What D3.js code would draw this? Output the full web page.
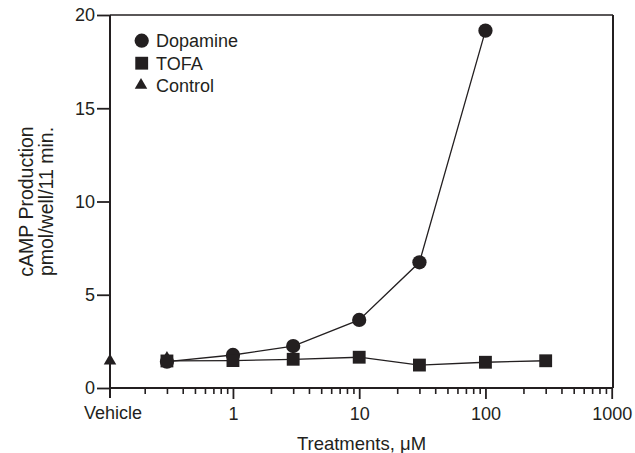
<!DOCTYPE html>
<html>
<head>
<meta charset="utf-8">
<script src="https://cdn.jsdelivr.net/npm/d3@7"></script>
<style>
  html, body { margin: 0; padding: 0; background: #fff; }
  svg { display: block; }
  text { font-family: "Liberation Sans", Arial, Helvetica, sans-serif; fill: #231f20; }
</style>
</head>
<body>
<svg id="chart" width="635" height="453"></svg>
<script>
// ---- data ----
const dopamineDose   = [0.3, 1, 3, 10, 30, 100];
const dopamineValues = [1.41, 1.77, 2.25, 3.65, 6.74, 19.16];
const tofaDose       = [0.3, 1, 3, 10, 30, 100, 300];
const tofaValues     = [1.45, 1.47, 1.54, 1.65, 1.23, 1.38, 1.46];
const controlDose    = ["Vehicle", 0.3];
const controlValues  = [1.45, 1.6];
const yTickValues    = [0, 5, 10, 15, 20];
const xMajorTicks    = [1, 10, 100, 1000];
const xMinorTicks    = [0.2,0.3,0.4,0.5,0.6,0.7,0.8,0.9, 2,3,4,5,6,7,8,9, 20,30,40,50,60,70,80,90, 200,300,400,500,600,700,800,900];
const legendNames    = ["Dopamine", "TOFA", "Control"];

// ---- layout ----
const ink = "#231f20";
const plot = { left: 110, right: 613, top: 15, bottom: 388 };
const svg = d3.select("#chart");

const x = d3.scaleLog().domain([0.1, 1000]).range([plot.left - 3.3, plot.right - 1.3]);
const y = d3.scaleLinear().domain([0, 20]).range([plot.bottom, plot.top]);
const px = d => d === "Vehicle" ? plot.left : x(d);

// ---- axes ----
const yAxis = svg.append("g").attr("transform", `translate(${plot.left},0)`)
  .call(d3.axisLeft(y).tickValues(yTickValues).tickSize(13).tickSizeOuter(0).tickPadding(2));
yAxis.select(".domain").remove();
yAxis.selectAll("line").attr("stroke", ink).attr("stroke-width", 1.8);
yAxis.selectAll("text").attr("font-size", 18).attr("fill", ink);

const xMinor = svg.append("g").attr("transform", `translate(0,${plot.bottom})`)
  .call(d3.axisBottom(x).tickValues(xMinorTicks).tickSize(6).tickFormat(""));
xMinor.select(".domain").remove();
xMinor.selectAll("line").attr("stroke", ink).attr("stroke-width", 1.6);

const xMajor = svg.append("g").attr("transform", `translate(0,${plot.bottom})`)
  .call(d3.axisBottom(x).tickValues(xMajorTicks).tickSize(11).tickPadding(8).tickFormat(d3.format("d")));
xMajor.select(".domain").remove();
xMajor.selectAll("line").attr("stroke", ink).attr("stroke-width", 1.8);
xMajor.selectAll("text").attr("font-size", 18).attr("fill", ink);

// vehicle label
svg.append("text").attr("x", plot.left + 3).attr("y", 419)
  .attr("text-anchor", "middle").attr("font-size", 18).text("Vehicle");

// frame lines
svg.append("line").attr("x1", plot.left).attr("x2", plot.left).attr("y1", plot.top).attr("y2", plot.bottom + 10)
  .attr("stroke", ink).attr("stroke-width", 2);
svg.append("line").attr("x1", plot.left).attr("x2", plot.right).attr("y1", plot.bottom).attr("y2", plot.bottom)
  .attr("stroke", ink).attr("stroke-width", 2);
svg.append("line").attr("x1", plot.left).attr("x2", plot.right).attr("y1", plot.top).attr("y2", plot.top)
  .attr("stroke", ink).attr("stroke-width", 1.5);
svg.append("line").attr("x1", plot.right).attr("x2", plot.right).attr("y1", plot.top).attr("y2", plot.bottom)
  .attr("stroke", ink).attr("stroke-width", 2);

// axis titles
svg.append("text").attr("transform", `translate(33,${(plot.top + plot.bottom) / 2}) rotate(-90)`)
  .attr("text-anchor", "middle").attr("font-size", 19.5).text("cAMP Production");
svg.append("text").attr("transform", `translate(53,${(plot.top + plot.bottom) / 2}) rotate(-90)`)
  .attr("text-anchor", "middle").attr("font-size", 19.5).text("pmol/well/11 min.");
svg.append("text").attr("x", (plot.left + plot.right) / 2).attr("y", 450)
  .attr("text-anchor", "middle").attr("font-size", 18.5).text("Treatments, \u03BCM");

// ---- series ----
const line = d3.line().x(d => px(d[0])).y(d => y(d[1]));
const dopa = dopamineDose.map((d, i) => [d, dopamineValues[i]]);
const tofa = tofaDose.map((d, i) => [d, tofaValues[i]]);
const ctrl = controlDose.map((d, i) => [d, controlValues[i]]);

const symTri = d3.symbol().type(d3.symbolTriangle).size(68);
const symCirc = d3.symbol().type(d3.symbolCircle).size(160);
const symSq = d3.symbol().type(d3.symbolSquare).size(165);

// control markers (drawn beneath)
svg.append("g").selectAll("path").data(ctrl).join("path")
  .attr("d", symTri).attr("fill", ink)
  .attr("transform", d => `translate(${px(d[0])},${y(d[1])})`);

svg.append("path").datum(tofa).attr("d", line).attr("fill", "none").attr("stroke", ink).attr("stroke-width", 1.3);
svg.append("path").datum(dopa).attr("d", line).attr("fill", "none").attr("stroke", ink).attr("stroke-width", 1.3);

svg.append("g").selectAll("path").data(dopa).join("path")
  .attr("d", symCirc).attr("fill", ink)
  .attr("transform", d => `translate(${px(d[0])},${y(d[1])})`);
svg.append("g").selectAll("path").data(tofa).join("path")
  .attr("d", symSq).attr("fill", ink)
  .attr("transform", d => `translate(${px(d[0])},${y(d[1])})`);

// ---- legend ----
const legendSyms = [symCirc, symSq, symTri];
const legend = svg.append("g");
legendNames.forEach((name, i) => {
  const cy = 40.7 + i * 22.5;
  legend.append("path").attr("d", legendSyms[i]).attr("fill", ink)
    .attr("transform", `translate(${i === 2 ? 141 : 141.7},${i === 2 ? cy - 0.5 : cy})`);
  legend.append("text").attr("x", 156).attr("y", cy + 6.3).attr("font-size", 18).text(name);
});
</script>
</body>
</html>
